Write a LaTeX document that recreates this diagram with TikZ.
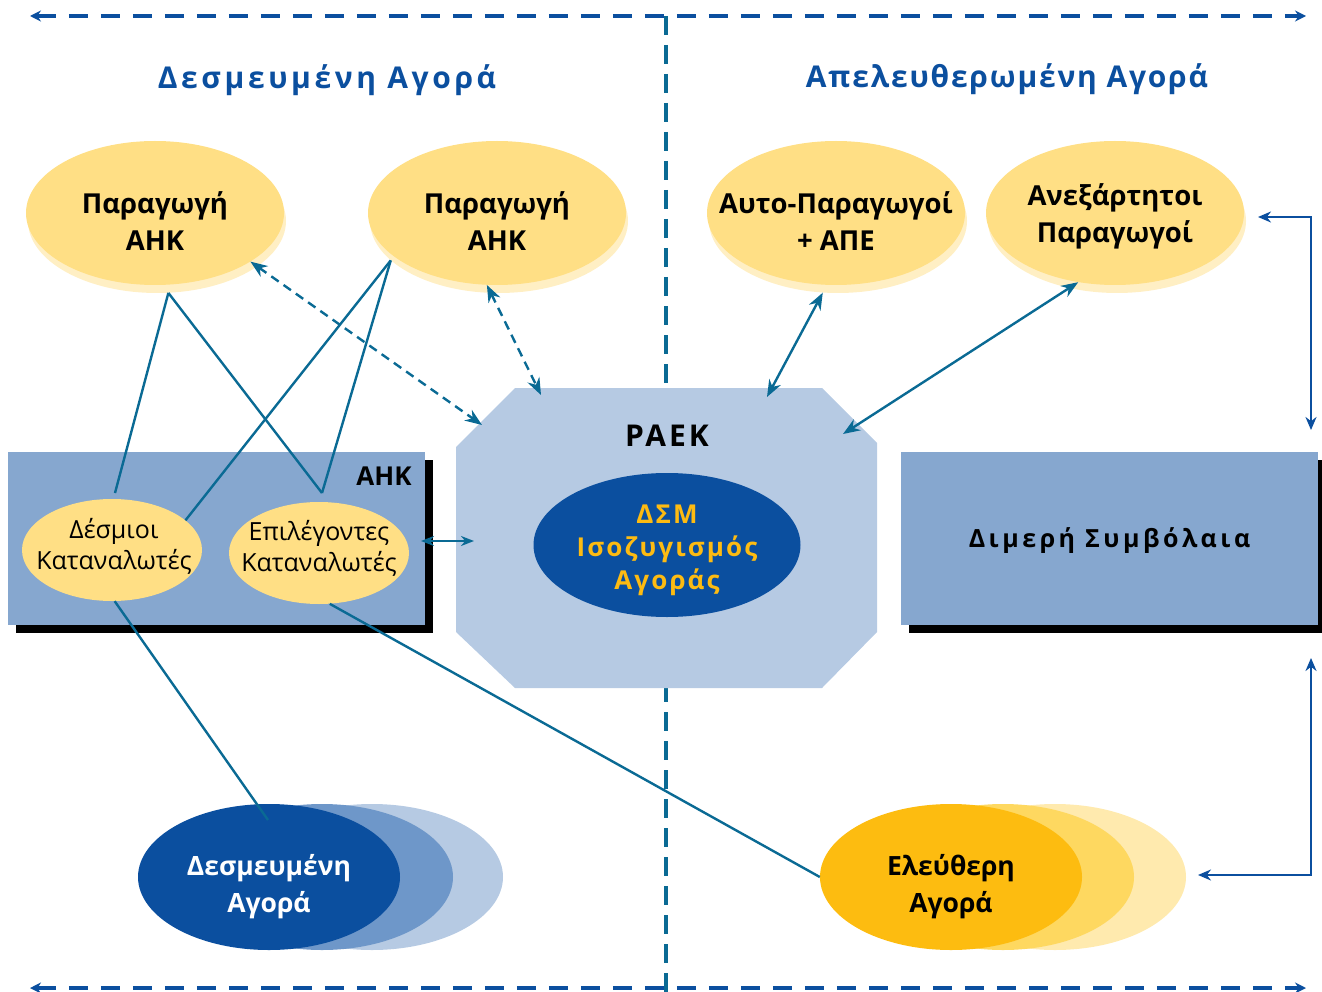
\documentclass[tikz,border=0pt]{standalone}
\usepackage{fontspec}
\setmainfont{Open Sans}
\usetikzlibrary{arrows.meta,shapes.geometric}
\definecolor{dblue}{HTML}{0B4F9F}
\definecolor{connc}{HTML}{0A6A94}
\definecolor{yel}{HTML}{FFDF85}
\definecolor{yelsh}{HTML}{FFEFC4}
\definecolor{rectb}{HTML}{86A7CF}
\definecolor{octb}{HTML}{B6CAE3}
\definecolor{midb}{HTML}{6E97C9}
\definecolor{fgold}{HTML}{FDBC10}
\definecolor{fmid}{HTML}{FED860}
\definecolor{flight}{HTML}{FFEAAE}
\definecolor{dsmtext}{HTML}{FDBB12}
\begin{document}
\begin{tikzpicture}[x=1pt,y=-1pt,
  prod/.style={ellipse, fill=yel, minimum width=258pt, minimum height=144pt, inner sep=0pt},
  prodsh/.style={ellipse, fill=yelsh, minimum width=258pt, minimum height=144pt, inner sep=0pt},
  ptext/.style={align=center, inner sep=0pt, font={\bfseries\fontsize{27.5}{37}\selectfont}},
  cons/.style={ellipse, fill=yel, minimum width=180pt, minimum height=102pt, inner sep=0pt},
  ctext/.style={align=center, inner sep=0pt, font={\fontsize{25}{31}\selectfont}},
  mkt/.style={ellipse, minimum width=262pt, minimum height=146pt, inner sep=0pt},
  mtext/.style={align=center, inner sep=0pt, font={\bfseries\fontsize{26.5}{37}\selectfont}},
  conn/.style={draw=connc, line width=2.4pt},
  darr/.style={conn, {Stealth[length=17pt,width=13pt]}-{Stealth[length=17pt,width=13pt]}},
  dsh/.style={dash pattern=on 9pt off 6pt},
  barr/.style={draw=dblue, line width=2.4pt, {Stealth[length=13pt,width=11pt]}-{Stealth[length=13pt,width=11pt]}},
  border/.style={draw=dblue, line width=4pt, dash pattern=on 19pt off 13pt, {Stealth[length=11pt,width=11pt]}-{Stealth[length=11pt,width=11pt]}},
  title/.style={text=dblue, font={\bfseries\fontsize{30}{36}\selectfont\addfontfeature{LetterSpace=12}}}
]
\useasboundingbox (0,0) rectangle (1322,992);

% frame lines
\coordinate (tl) at (30,16); \coordinate (tr) at (1306,16);
\coordinate (bl) at (30,988); \coordinate (br) at (1306,988);
\coordinate (vt) at (666,16); \coordinate (vb) at (666,992);
\draw[border] (tl) -- (tr);
\draw[border] (bl) -- (br);
\draw[draw=connc, line width=4pt, dash pattern=on 19pt off 10pt] (vt) -- (vb);

% titles
\node[title] (t1) at (327,80) {Δεσμευμένη Αγορά};
\node[title, font={\bfseries\fontsize{30}{36}\selectfont\addfontfeature{LetterSpace=6}}] (t2) at (1007,79) {Απελευθερωμένη Αγορά};

% producer ellipses
\node[prodsh] (p1s) at (157,221) {};
\node[prod] (p1) at (155,213) {};
\node[ptext] (p1t) at (155,221) {Παραγωγή\\ΑΗΚ};
\node[prodsh] (p2s) at (499,221) {};
\node[prod] (p2) at (497,213) {};
\node[ptext] (p2t) at (497,221) {Παραγωγή\\ΑΗΚ};
\node[prodsh] (p3s) at (838,221) {};
\node[prod] (p3) at (836,213) {};
\node[ptext] (p3t) at (836,221) {Αυτο-Παραγωγοί\\+ ΑΠΕ};
\node[prodsh] (p4s) at (1117,221) {};
\node[prod] (p4) at (1115,213) {};
\node[ptext] (p4t) at (1115,216) {Ανεξάρτητοι\\Παραγωγοί};

% AHK rectangle
\fill[black] (16,460) rectangle (433,633);
\node[rectangle, fill=rectb, minimum width=417pt, minimum height=173pt, inner sep=0pt] (ahk) at (216.5,538.5) {};
\node[font={\bfseries\fontsize{26}{30}\selectfont}] (ahkl) at (384,476) {ΑΗΚ};
\node[cons] (dc) at (112,550) {};
\node[ctext] (dct) at (114,546) {Δέσμιοι\\Καταναλωτές};
\node[cons] (ec) at (319,553) {};
\node[ctext] (ect) at (319,548) {Επιλέγοντες\\Καταναλωτές};

% right rectangle
\fill[black] (909,460) rectangle (1322,633);
\node[rectangle, fill=rectb, minimum width=417pt, minimum height=173pt, inner sep=0pt] (dim) at (1109.5,538.5) {};
\node[font={\bfseries\fontsize{25}{30}\selectfont\addfontfeature{LetterSpace=14}}] (diml) at (1109.5,541) {Διμερή Συμβόλαια};

% octagon PAEK
\fill[octb] (515,388) -- (822,388) -- (877,443) -- (877,632) -- (822,688) -- (515,688) -- (456,632) -- (456,447) -- cycle;
\node[font={\bfseries\fontsize{30}{36}\selectfont\addfontfeature{LetterSpace=10}}] (raek) at (667,436) {ΡΑΕΚ};
\node[ellipse, fill=dblue, minimum width=267pt, minimum height=144pt, inner sep=0pt] (dsm) at (667,545) {};
\node[align=center, inner sep=0pt, text=dsmtext,
      font={\bfseries\fontsize{26}{33}\selectfont\addfontfeature{LetterSpace=8}}] (dsmt) at (667,550) {ΔΣΜ\\Ισοζυγισμός\\Αγοράς};

% market ellipses
\node[mkt, fill=octb] (dml) at (372,877) {};
\node[mkt, fill=midb] (dmm) at (322,877) {};
\node[mkt, fill=dblue] (dm) at (269,877) {};
\node[mtext, text=white] (dmt) at (269,887) {Δεσμευμένη\\Αγορά};
\node[mkt, fill=flight] (fml) at (1055,877) {};
\node[mkt, fill=fmid] (fmm) at (1003,877) {};
\node[mkt, fill=fgold] (fm) at (951,877) {};
\node[mtext] (fmt) at (951,887) {Ελεύθερη\\Αγορά};

% junctions and ends
\coordinate (djoin) at (115,493);
\coordinate (ejoin) at (322,493);
\coordinate (dmin) at (268,820);
\coordinate (o1) at (482,425);
\coordinate (o2) at (541,395);
\coordinate (o3) at (767,397);
\coordinate (o4) at (843,434);
\coordinate (o5) at (474,541);
\coordinate (a5s) at (421,541);
\coordinate (e1a) at (1258,217);
\coordinate (e1c) at (1311,217);
\coordinate (e1b) at (1311,430);
\coordinate (e2a) at (1311,658);
\coordinate (e2c) at (1311,875);
\coordinate (e2b) at (1198,875);

% connectors
\draw[conn] (p1s.-81) -- (djoin);
\draw[conn] (p1s.-81) -- (ejoin);
\draw[conn] (p2s.-160) -- (dc.22);
\draw[conn] (p2s.-160) -- (ejoin);
\draw[conn] (dc.-87) -- (dmin);
\draw[conn] (ec.-78) -- (fm.west);

\draw[darr, dsh] (p1.-27) -- (o1);
\draw[darr, dsh] (p2.-98) -- (o2);
\draw[darr] (p3s.-102) -- (o3);
\draw[darr] (p4.-118) -- (o4);
\draw[conn, {Stealth[length=13pt,width=10pt]}-{Stealth[length=13pt,width=10pt]}] (a5s) -- (o5);

\draw[barr] (e1a) -- (e1c) -- (e1b);
\draw[barr] (e2a) -- (e2c) -- (e2b);
\end{tikzpicture}
\end{document}
